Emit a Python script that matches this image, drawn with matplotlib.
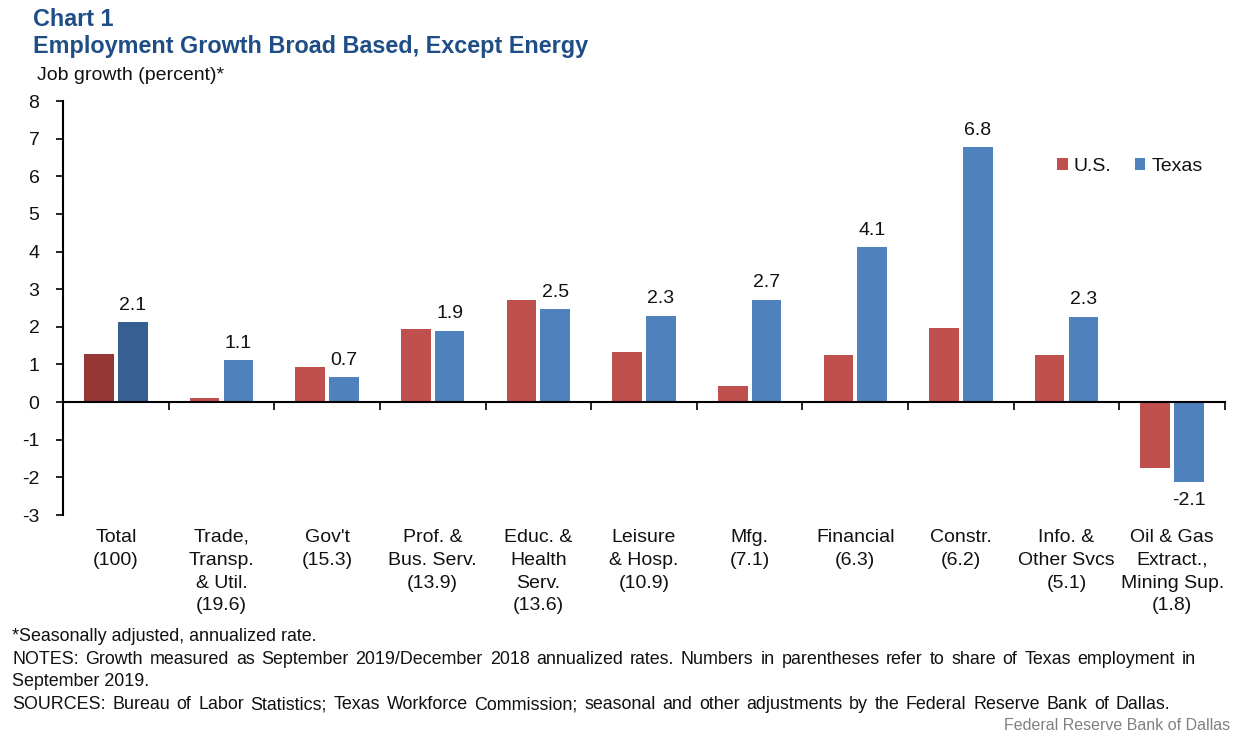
import matplotlib
matplotlib.use("Agg")
import matplotlib.pyplot as plt
from matplotlib.patches import Patch
import numpy as np

plt.rcParams['font.family'] = ['Liberation Sans', 'DejaVu Sans']

categories = ["Total\n(100)", "Trade,\nTransp.\n& Util.\n(19.6)", "Gov't\n(15.3)",
              "Prof. &\nBus. Serv.\n(13.9)", "Educ. &\nHealth\nServ.\n(13.6)",
              "Leisure\n& Hosp.\n(10.9)", "Mfg.\n(7.1)", "Financial\n(6.3)",
              "Constr.\n(6.2)", "Info. &\nOther Svcs\n(5.1)",
              "Oil & Gas\nExtract.,\nMining Sup.\n(1.8)"]
us_values = [1.27, 0.1, 0.92, 1.95, 2.7, 1.32, 0.42, 1.25, 1.98, 1.25, -1.75]
texas_values = [2.12, 1.12, 0.66, 1.9, 2.47, 2.3, 2.72, 4.12, 6.78, 2.27, -2.13]
texas_labels = ["2.1", "1.1", "0.7", "1.9", "2.5", "2.3", "2.7", "4.1", "6.8", "2.3", "-2.1"]
yticks = [-3, -2, -1, 0, 1, 2, 3, 4, 5, 6, 7, 8]

US_C = "#C0504D"
TX_C = "#4F81BD"
US_DARK = "#953735"
TX_DARK = "#366092"
TITLE_C = "#1F4E87"
TXT = "#111111"
FS = 14

fig = plt.figure(figsize=(12.46, 7.37), dpi=100)
ax = fig.add_axes([63/1246, (737-515)/737, (1225-63)/1246, (515-101)/737])

x = np.arange(len(categories))
w = 0.28
off = 0.16
us_cols = [US_DARK] + [US_C]*(len(x)-1)
tx_cols = [TX_DARK] + [TX_C]*(len(x)-1)
ax.bar(x - off, us_values, w, color=us_cols, zorder=2)
ax.bar(x + off, texas_values, w, color=tx_cols, zorder=2)

ax.set_xlim(-0.5, len(x) - 0.5)
ax.set_ylim(-3, 8)
ax.set_yticks(yticks)
ax.set_yticklabels([str(t) for t in yticks], fontsize=FS, color=TXT)
ax.tick_params(axis='y', direction='out', length=5, width=1.2, pad=12)

ax.spines['top'].set_visible(False)
ax.spines['right'].set_visible(False)
ax.spines['left'].set_linewidth(1.5)
ax.spines['bottom'].set_position(('data', 0))
ax.spines['bottom'].set_linewidth(1.5)
ax.spines['bottom'].set_zorder(3)
ax.set_xticks(np.arange(-0.5, len(x), 1.0))
ax.set_xticklabels([])
ax.tick_params(axis='x', direction='out', length=6, width=1.2)

for i, cat in enumerate(categories):
    ax.annotate(cat, xy=(i, 0), xycoords=('data', 'axes fraction'),
                xytext=(0, -10), textcoords='offset points',
                ha='center', va='top', fontsize=FS, linespacing=1.45,
                color=TXT)

for i, (v, s) in enumerate(zip(texas_values, texas_labels)):
    if v >= 0:
        ax.annotate(s, xy=(i + off, v), xytext=(0, 6), textcoords='offset points',
                    ha='center', va='bottom', fontsize=FS, color=TXT)
    else:
        ax.annotate(s, xy=(i + off, v), xytext=(0, -7), textcoords='offset points',
                    ha='center', va='top', fontsize=FS, color=TXT)

handles = [Patch(facecolor=US_C, label="U.S."), Patch(facecolor=TX_C, label="Texas")]
leg = ax.legend(handles=handles, loc='upper left',
                bbox_to_anchor=(1057/1246, (737-158)/737),
                bbox_transform=fig.transFigure, ncol=2, frameon=False,
                fontsize=FS, handlelength=0.55, handleheight=0.55,
                handletextpad=0.3, columnspacing=1.2, borderpad=0, borderaxespad=0)
for t in leg.get_texts():
    t.set_color(TXT)

fig.text(33/1246, 1 - 19/737, "Chart 1", fontsize=16.8, fontweight='bold',
         color=TITLE_C, va='center', ha='left')
fig.text(33/1246, 1 - 46/737, "Employment Growth Broad Based, Except Energy",
         fontsize=16.8, fontweight='bold', color=TITLE_C, va='center', ha='left')
fig.text(37/1246, 1 - 75/737, "Job growth (percent)*", fontsize=FS,
         color=TXT, va='center', ha='left')

foot = 12.9
BL = 5  # baseline offset below visual center, pixels
renderer = fig.canvas.get_renderer()


def justified(x0, x1, ypix, line):
    words = line.split(" ")
    arts = [fig.text(0, 1 - (ypix + BL)/737, wd, fontsize=foot, va='baseline',
                     ha='left', color=TXT) for wd in words]
    widths = [a.get_window_extent(renderer).width for a in arts]
    gap = (x1 - x0 - sum(widths)) / (len(words) - 1)
    pos = x0
    for a, wdt in zip(arts, widths):
        a.set_x(pos/1246)
        pos += wdt + gap


fig.text(12/1246, 1 - (636 + BL)/737, "*Seasonally adjusted, annualized rate.",
         fontsize=foot, va='baseline', ha='left', color=TXT)
justified(12, 1196, 659,
          "NOTES: Growth measured as September 2019/December 2018 annualized rates. Numbers in parentheses refer to share of Texas employment in")
fig.text(12/1246, 1 - (681 + BL)/737, "September 2019.",
         fontsize=foot, va='baseline', ha='left', color=TXT)
justified(12, 1170, 704,
          "SOURCES: Bureau of Labor Statistics; Texas Workforce Commission; seasonal and other adjustments by the Federal Reserve Bank of Dallas.")
fig.text(1230/1246, 1 - (726 + 4)/737, "Federal Reserve Bank of Dallas",
         fontsize=11.5, va='baseline', ha='right', color='#808080')

fig.savefig("out.png", dpi=100)
